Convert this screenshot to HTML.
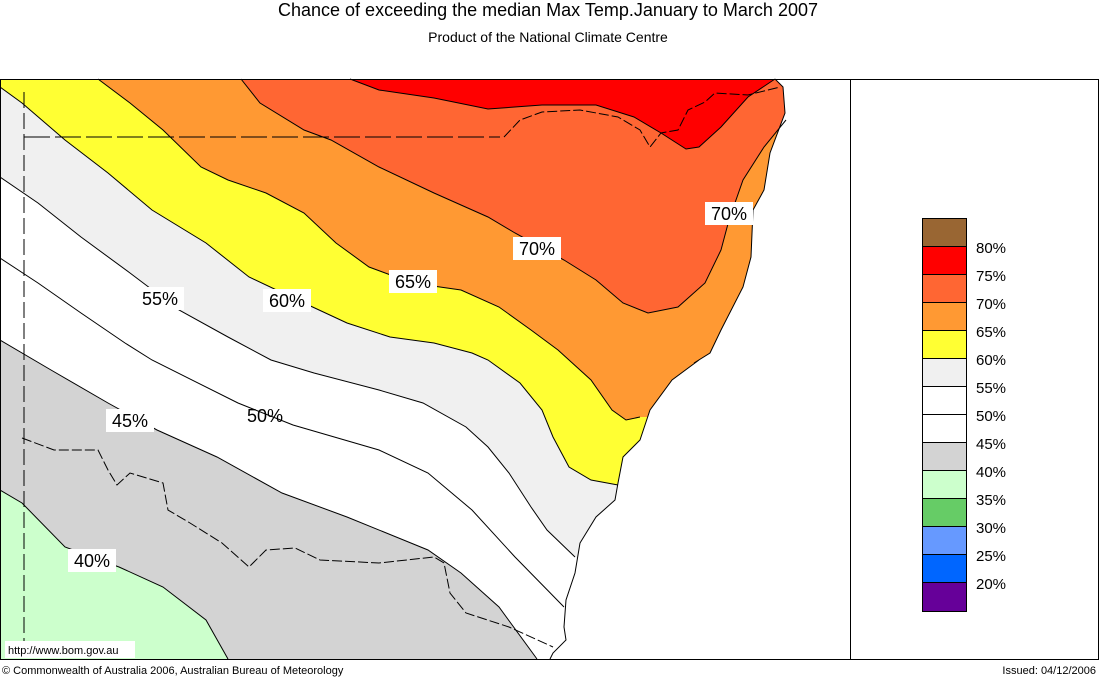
<!DOCTYPE html>
<html><head><meta charset="utf-8"><style>
html,body{margin:0;padding:0;background:#fff;}
body{width:1099px;height:678px;overflow:hidden;font-family:"Liberation Sans",Arial,sans-serif;}
</style></head><body>
<svg width="1099" height="678" viewBox="0 0 1099 678" xmlns="http://www.w3.org/2000/svg" font-family="Liberation Sans, Arial, sans-serif">
<rect width="1099" height="678" fill="#fff"/>
<text x="548" y="16" font-size="18" text-anchor="middle">Chance of exceeding the median Max Temp.January to March 2007</text>
<text x="548" y="42" font-size="14" text-anchor="middle">Product of the National Climate Centre</text>

<rect x="0" y="79" width="850" height="580" fill="#ccffcc"/>
<polygon fill="#d3d3d3" points="0,490 22,503 65,547 119,567 163,587 206,620 228,659 850,659 850,79 0,79"/>
<polygon fill="#fff" points="0,340 51,370 108,403 157,430 217,457 282,493 347,517 428,550 461,573 499,607 537,659 850,659 850,79 0,79"/>
<polygon fill="#f0f0f0" points="0,177 38,203 81,237 130,273 179,310 228,337 271,360 314,373 379,390 423,403 466,427 488,447 509,473 531,507 547,530 575,557 620,600 850,600 850,79 0,79"/>
<polygon fill="#ffff33" points="0,87 22,103 65,140 108,173 152,210 206,243 249,277 304,303 347,323 390,337 434,343 472,353 488,360 520,383 542,410 553,437 569,467 591,480 618,485 680,485 850,485 850,79 0,79"/>
<polygon fill="#ff9933" points="98,79 130,103 163,130 201,167 228,180 266,193 304,213 336,243 369,267 412,283 461,290 499,307 531,330 558,350 569,360 591,380 612,410 626,420 640,417 700,417 850,417 850,79"/>
<polygon fill="#ff6633" points="241,79 260,103 304,130 331,140 379,167 434,193 488,217 515,233 564,260 596,280 623,303 648,313 678,307 705,283 721,250 729,220 743,180 764,147 786,120 800,113 850,113 850,79"/>
<polygon fill="#ff0000" points="350,79 379,90 434,98 488,109 542,105 596,105 634,117 661,133 686,149 699,147 721,127 748,97 775,79"/>
<polygon fill="#fff" points="775,79 783,87 785,113 770,153 764,190 753,210 751,257 743,287 721,330 710,353 694,363 699,360 672,380 650,410 640,440 623,457 618,483 615,500 596,517 580,543 575,573 566,600 564,627 566,640 553,653 550,659 850,659 850,79"/>
<polyline fill="none" stroke="#000" stroke-width="1" points="775,79 783,87 785,113 770,153 764,190 753,210 751,257 743,287 721,330 710,353 694,363 699,360 672,380 650,410 640,440 623,457 618,483 615,500 596,517 580,543 575,573 566,600 564,627 566,640 553,653 550,659"/>
<g fill="none" stroke="#000" stroke-width="1">
<polyline points="0,490 22,503 65,547 119,567 163,587 206,620 228,659"/>
<polyline points="0,340 51,370 108,403 157,430 217,457 282,493 347,517 428,550 461,573 499,607 537,659"/>
<polyline points="0,258 38,283 81,313 125,343 152,360 238,403 293,425 379,450 428,473 472,510 515,557 564,607"/>
<polyline points="0,177 38,203 81,237 130,273 179,310 228,337 271,360 314,373 379,390 423,403 466,427 488,447 509,473 531,507 547,530 575,557"/>
<polyline points="0,87 22,103 65,140 108,173 152,210 206,243 249,277 304,303 347,323 390,337 434,343 472,353 488,360 520,383 542,410 553,437 569,467 591,480 618,485"/>
<polyline points="98,79 130,103 163,130 201,167 228,180 266,193 304,213 336,243 369,267 412,283 461,290 499,307 531,330 558,350 569,360 591,380 612,410 626,420 640,417"/>
<polyline points="241,79 260,103 304,130 331,140 379,167 434,193 488,217 515,233 564,260 596,280 623,303 648,313 678,307 705,283 721,250 729,220 743,180 764,147 786,120"/>
<polyline points="350,79 379,90 434,98 488,109 542,105 596,105 634,117 661,133 686,149 699,147 721,127 748,97 775,79"/>
</g>
<g fill="none" stroke="#000" stroke-width="1">
<line x1="24" y1="92" x2="24" y2="659" stroke-dasharray="16,5"/>
<line x1="24" y1="137" x2="500" y2="137" stroke-dasharray="26,5"/>
<polyline points="504,137 520,120 542,112 580,110 618,117 640,130 650,147 661,133 678,130 688,110 705,102 715,93 748,95 780,87" stroke-dasharray="10,3"/>
<polyline points="22,438 54,450 98,450 108,470 117,485 130,473 163,483 168,510 190,523 222,543 249,567 266,550 295,548 320,560 379,563 434,557 444,563 450,593 466,613 509,627 553,647" stroke-dasharray="10,3"/>
</g>
<g font-size="18" text-anchor="middle">
<rect x="136" y="287" width="48" height="23" fill="#fff"/><text x="160" y="305">55%</text>
<rect x="263" y="289" width="48" height="23" fill="#fff"/><text x="287" y="307">60%</text>
<rect x="389" y="270" width="48" height="23" fill="#fff"/><text x="413" y="288">65%</text>
<rect x="513" y="237" width="48" height="23" fill="#fff"/><text x="537" y="255">70%</text>
<rect x="705" y="202" width="48" height="23" fill="#fff"/><text x="729" y="220">70%</text>
<rect x="106" y="409" width="48" height="23" fill="#fff"/><text x="130" y="427">45%</text>
<text x="265" y="422">50%</text>
<rect x="68" y="549" width="48" height="23" fill="#fff"/><text x="92" y="567">40%</text>
</g>
<rect x="5" y="641" width="130" height="17" fill="#fff"/>
<text x="8" y="654" font-size="11">http://www.bom.gov.au</text>

<g fill="none" stroke="#000" stroke-width="1">
<line x1="0" y1="79.5" x2="1099" y2="79.5"/>
<line x1="0" y1="659.5" x2="1099" y2="659.5"/>
<line x1="0.5" y1="79" x2="0.5" y2="660"/>
<line x1="850.5" y1="79" x2="850.5" y2="660"/>
<line x1="1098.5" y1="79" x2="1098.5" y2="660"/>
</g>

<g stroke="#000" stroke-width="1">
<rect x="922.5" y="218.5" width="44" height="28" fill="#996633"/>
<rect x="922.5" y="246.5" width="44" height="28" fill="#ff0000"/>
<rect x="922.5" y="274.5" width="44" height="28" fill="#ff6633"/>
<rect x="922.5" y="302.5" width="44" height="28" fill="#ff9933"/>
<rect x="922.5" y="330.5" width="44" height="28" fill="#ffff33"/>
<rect x="922.5" y="358.5" width="44" height="28" fill="#f0f0f0"/>
<rect x="922.5" y="386.5" width="44" height="28" fill="#ffffff"/>
<rect x="922.5" y="414.5" width="44" height="28" fill="#ffffff"/>
<rect x="922.5" y="442.5" width="44" height="28" fill="#d3d3d3"/>
<rect x="922.5" y="470.5" width="44" height="28" fill="#ccffcc"/>
<rect x="922.5" y="498.5" width="44" height="28" fill="#66cc66"/>
<rect x="922.5" y="526.5" width="44" height="28" fill="#6699ff"/>
<rect x="922.5" y="554.5" width="44" height="28" fill="#0066ff"/>
<rect x="922.5" y="582.5" width="44" height="29" fill="#660099"/>
</g>
<g font-size="15">
<text x="976" y="253">80%</text>
<text x="976" y="281">75%</text>
<text x="976" y="309">70%</text>
<text x="976" y="337">65%</text>
<text x="976" y="365">60%</text>
<text x="976" y="393">55%</text>
<text x="976" y="421">50%</text>
<text x="976" y="449">45%</text>
<text x="976" y="477">40%</text>
<text x="976" y="505">35%</text>
<text x="976" y="533">30%</text>
<text x="976" y="561">25%</text>
<text x="976" y="589">20%</text>
</g>

<text x="2" y="674" font-size="11">© Commonwealth of Australia 2006, Australian Bureau of Meteorology</text>
<text x="1096" y="674" font-size="11" text-anchor="end">Issued: 04/12/2006</text>
</svg>
</body></html>
